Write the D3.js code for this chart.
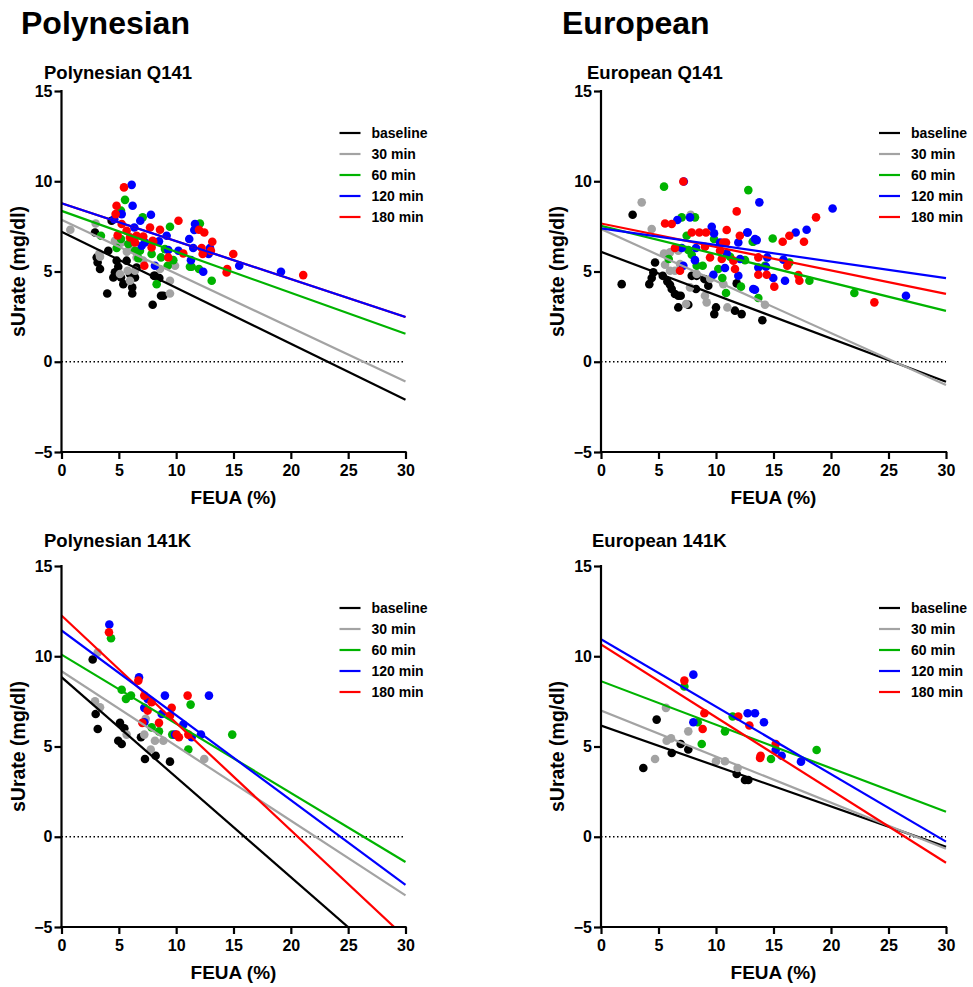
<!DOCTYPE html>
<html><head><meta charset="utf-8">
<script src="https://cdn.jsdelivr.net/npm/d3@7"></script>
<style>
html,body{margin:0;padding:0;background:#fff;}
text{font-family:"Liberation Sans",Arial,sans-serif;font-weight:bold;}
</style></head>
<body><svg id="c" width="973" height="987"></svg>
<script>
// ---------- DATA ----------
const seriesNames = ["baseline","30 min","60 min","120 min","180 min"];
const seriesColors = ["#000000","#a3a3a3","#00b300","#0000ff","#ff0000"];
const xTicks = [0,5,10,15,20,25,30];
const yTicks = [-5,0,5,10,15];
const panelTitles = ["Polynesian Q141","European Q141","Polynesian 141K","European 141K"];
const groupTitles = ["Polynesian","European"];

// Polynesian Q141 points [FEUA, sUrate]
const polyQ_baseline = [[4.37,7.81],[2.92,7.16],[4.08,6.15],[3.07,5.78],[3.15,5.5],[3.36,5.14],[4.81,5.6],[5.68,5.6],[4.95,5.26],[4.66,4.95],[4.52,4.67],[5.19,4.67],[5.39,4.3],[5.97,4.86],[6.41,4.67],[6.17,4.12],[3.99,3.78],[6.17,3.78],[8.15,4.76],[8.53,4.64],[8.88,3.66],[8.68,3.66],[7.95,3.16],[6.55,5.22],[8.06,4.76]];
const polyQ_30 = [[2.98,7.66],[0.77,7.31],[3.36,5.82],[5.1,4.86],[5.97,4.49],[6.41,5.04],[5.77,5.04],[9.46,3.78],[9.46,4.49],[6.55,5.78],[7.13,5.6],[4.66,6.7],[5.2,6.6],[5.7,6.1],[9.9,5.32],[8.59,5.14],[3.3,6.0],[6.0,6.4]];
const polyQ_60 = [[5.54,8.97],[5.19,8.37],[7.08,8.0],[3.44,6.98],[9.46,7.48],[12.07,7.66],[9.02,6.24],[8.68,5.78],[9.75,5.63],[11.35,5.26],[11.99,5.14],[13.1,4.49],[9.26,5.32],[7.86,5.97],[6.84,6.15],[6.41,6.15],[5.83,6.52],[4.81,6.3],[5.19,6.8],[6.7,5.74],[8.3,4.3],[11.2,5.26]];
const polyQ_120 = [[6.12,9.8],[6.2,8.64],[5.25,8.18],[7.8,8.14],[6.87,7.81],[11.64,7.63],[11.58,7.3],[11.14,6.8],[12.95,6.3],[8.5,6.67],[9.31,6.19],[10.2,6.15],[11.29,5.63],[12.36,4.99],[8.15,5.32],[7.28,6.61],[6.99,6.43],[6.35,7.44],[11.49,6.3],[12.83,5.97],[15.5,5.32],[19.14,4.99],[9.17,6.98],[4.6,7.9]];
const polyQ_180 = [[5.45,9.66],[4.8,8.64],[4.72,8.18],[10.2,7.81],[5.25,7.63],[5.68,7.26],[6.55,6.98],[7.72,7.44],[8.59,7.31],[11.99,7.31],[12.45,7.16],[13.15,6.65],[12.22,6.3],[7.95,6.7],[7.86,6.33],[10.62,6.0],[9.31,5.78],[14.45,5.14],[7.22,5.32],[5.97,6.89],[6.41,6.61],[7.13,6.93],[8.0,6.65],[13.03,6.15],[12.31,5.97],[14.98,5.97],[14.4,4.95],[21.08,4.8],[4.9,7.0]];

// European Q141
const euroQ_baseline = [[2.75,8.14],[1.8,4.3],[4.2,4.3],[4.7,5.5],[4.41,4.64],[4.55,4.95],[5.37,4.76],[5.77,4.45],[6.0,4.27],[6.15,4.03],[6.43,3.75],[6.72,3.66],[6.93,3.66],[6.72,3.01],[7.59,3.16],[7.89,4.76],[8.32,4.76],[8.99,4.58],[9.33,4.21],[8.26,4.03],[10.0,3.01],[9.85,2.64],[11.65,2.83],[12.23,2.64],[14.03,2.3],[11.8,4.34]];
const euroQ_30 = [[3.54,8.83],[4.41,7.35],[7.8,8.14],[5.48,6.0],[5.57,5.37],[6.0,5.04],[6.43,5.04],[6.87,5.41],[7.4,3.2],[7.74,4.12],[8.32,4.86],[9.04,3.66],[9.19,3.29],[10.64,4.3],[10.99,3.01],[14.26,3.16],[6.0,6.06],[6.72,6.15],[9.5,4.6]];
const euroQ_60 = [[5.48,9.7],[7.02,8.0],[8.17,8.0],[12.81,9.51],[7.45,6.98],[9.83,6.8],[13.24,6.65],[7.59,6.19],[7.89,5.93],[11.22,5.82],[12.52,5.63],[14.26,5.32],[13.68,3.53],[10.2,5.14],[10.55,4.64],[12.17,4.16],[10.87,3.81],[8.32,5.32],[8.84,5.32],[5.89,5.69],[14.93,6.83],[13.19,6.65],[16.38,5.5],[18.12,4.49],[22.03,3.81]];
const euroQ_120 = [[7.2,9.99],[6.64,7.85],[7.74,8.0],[9.63,7.48],[13.77,8.83],[12.72,7.16],[9.83,7.11],[10.35,6.61],[11.94,6.61],[13.54,6.74],[7.02,6.3],[8.26,6.3],[10.93,6.0],[12.09,5.69],[13.68,5.22],[13.24,4.03],[10.78,5.19],[9.77,4.82],[11.94,4.76],[8.17,5.63],[7.16,5.32],[20.14,8.49],[17.88,7.31],[16.93,7.16],[12.75,7.16],[13.39,6.8],[14.46,5.78],[15.86,5.65],[14.35,5.26],[14.98,4.64],[16.0,4.49],[13.39,3.99],[26.52,3.66]];
const euroQ_180 = [[7.16,9.99],[5.57,7.66],[6.15,7.63],[10.93,7.3],[11.8,8.33],[12.07,6.98],[7.89,7.16],[8.55,7.16],[9.13,7.16],[10.64,6.61],[10.87,6.61],[6.43,6.3],[9.04,6.37],[9.48,5.78],[10.5,5.69],[10.35,6.15],[11.51,5.6],[13.68,5.78],[13.68,4.82],[14.41,4.82],[11.65,5.14],[6.87,5.04],[18.7,8.0],[16.38,6.98],[15.8,6.65],[17.65,6.65],[16.2,5.32],[17.16,4.8],[17.25,4.49],[15.07,4.16],[23.77,3.29]];

// Polynesian 141K
const polyK_baseline = [[2.72,9.82],[2.98,6.8],[3.16,5.97],[5.1,6.31],[5.48,6.01],[4.95,5.32],[5.25,5.14],[6.93,5.51],[7.28,4.31],[8.21,4.49],[9.46,4.16]];
const polyK_30 = [[3.15,10.2],[2.92,7.5],[3.36,7.17],[5.68,5.66],[7.22,5.66],[8.15,5.32],[8.88,5.32],[7.78,4.83],[7.34,6.53],[12.45,4.31]];
const polyK_60 = [[4.32,11.0],[5.25,8.14],[5.62,7.64],[6.06,7.82],[7.86,6.06],[8.5,5.84],[9.66,5.66],[11.26,7.32],[11.06,4.83],[14.89,5.66]];
const polyK_120 = [[4.17,11.76],[6.76,8.84],[7.51,7.64],[9.02,7.82],[12.86,7.82],[7.22,7.14],[8.74,6.8],[7.22,6.34],[10.62,6.21],[11.35,5.51],[12.16,5.66],[9.9,5.66]];
const polyK_180 = [[4.14,11.33],[6.7,8.65],[7.22,7.82],[7.86,7.45],[11.0,7.82],[9.61,7.14],[7.51,6.99],[9.46,6.71],[8.5,6.31],[7.05,6.31],[10.04,5.66],[10.24,5.51],[11.06,5.66]];

// European 141K
const euroK_baseline = [[4.84,6.49],[6.93,5.14],[7.59,4.83],[6.15,4.64],[3.68,3.81],[11.8,3.48],[12.52,3.14],[12.81,3.14]];
const euroK_30 = [[5.65,7.14],[7.59,5.84],[6.09,5.45],[5.71,5.32],[4.7,4.31],[10.0,4.18],[10.78,4.18],[11.88,3.81]];
const euroK_60 = [[7.25,8.32],[8.41,6.34],[8.76,5.14],[11.45,6.66],[10.78,5.84],[14.78,4.31],[18.75,4.81]];
const euroK_120 = [[8.03,8.98],[8.03,6.34],[12.75,6.84],[13.39,6.84],[14.17,6.34],[15.19,4.81],[15.71,4.49],[17.39,4.16]];
const euroK_180 = [[7.25,8.65],[8.99,6.84],[8.84,5.97],[11.94,6.66],[12.9,6.16],[15.19,5.14],[13.88,4.49],[13.83,4.36]];

// Regression lines [intercept, slope] per series
const polyQ_fits = [[7.2,-0.31],[7.87,-0.299],[8.36,-0.227],[8.78,-0.21],[8.78,-0.21]];
const euroQ_fits = [[6.09,-0.24],[7.35,-0.288],[7.53,-0.157],[7.39,-0.092],[7.66,-0.130]];
const polyK_fits = [[8.84,-0.554],[9.17,-0.414],[10.09,-0.383],[11.43,-0.47],[12.26,-0.595]];
const euroK_fits = [[6.16,-0.224],[6.99,-0.255],[8.62,-0.241],[10.95,-0.374],[10.65,-0.403]];

// ---------- DRAW ----------
const svg = d3.select("#c");
const font = '"Liberation Sans",Arial,sans-serif';

svg.append("text").attr("x",21).attr("y",34).attr("font-size",32).text(groupTitles[0]);
svg.append("text").attr("x",562).attr("y",34).attr("font-size",32).text(groupTitles[1]);

const panels = [
  {title:panelTitles[0], left:61.5, right:405.5, top:91, bottom:452, titleY:79, titleX:44,
   pts:[polyQ_baseline,polyQ_30,polyQ_60,polyQ_120,polyQ_180], fits:polyQ_fits},
  {title:panelTitles[1], left:601, right:946, top:91, bottom:452, titleY:79, titleX:587,
   pts:[euroQ_baseline,euroQ_30,euroQ_60,euroQ_120,euroQ_180], fits:euroQ_fits},
  {title:panelTitles[2], left:61.5, right:405.5, top:566, bottom:927, titleY:547, titleX:44,
   pts:[polyK_baseline,polyK_30,polyK_60,polyK_120,polyK_180], fits:polyK_fits},
  {title:panelTitles[3], left:601, right:946, top:566, bottom:927, titleY:547, titleX:592,
   pts:[euroK_baseline,euroK_30,euroK_60,euroK_120,euroK_180], fits:euroK_fits}
];

const pointOrder = [0,1,2,3,4];
const lineOrder = [0,1,2,4,3];

panels.forEach((p,pi)=>{
  const x = d3.scaleLinear().domain([0,30]).range([p.left,p.right]);
  const y = d3.scaleLinear().domain([-5,15]).range([p.bottom,p.top]);
  const g = svg.append("g");

  g.append("text").attr("x",p.titleX).attr("y",p.titleY).attr("font-size",18.5).text(p.title);

  const clipId = "clip"+pi;
  svg.append("clipPath").attr("id",clipId).append("rect")
    .attr("x",p.left).attr("y",p.top).attr("width",p.right-p.left+2).attr("height",p.bottom-p.top);

  g.append("line").attr("x1",x(0)).attr("x2",x(30)).attr("y1",y(0)).attr("y2",y(0))
    .attr("stroke","#000").attr("stroke-width",1.3).attr("stroke-dasharray","1.5,2.5");

  const pg = g.append("g");
  pointOrder.forEach(si=>{
    pg.selectAll(null).data(p.pts[si]).enter().append("circle")
      .attr("cx",d=>x(d[0])).attr("cy",d=>y(d[1])).attr("r",4.3)
      .attr("fill",seriesColors[si]);
  });

  const lg = g.append("g").attr("clip-path","url(#"+clipId+")");
  lineOrder.forEach(si=>{
    const f = p.fits[si];
    lg.append("line").attr("x1",x(0)).attr("y1",y(f[0])).attr("x2",x(30)).attr("y2",y(f[0]+f[1]*30))
      .attr("stroke",seriesColors[si]).attr("stroke-width",2.2);
  });

  const xa = g.append("g").attr("transform","translate(0,"+p.bottom+")")
    .call(d3.axisBottom(x).tickValues(xTicks).tickSize(7).tickSizeOuter(0).tickFormat(d3.format("d")));
  const ya = g.append("g").attr("transform","translate("+p.left+",0)")
    .call(d3.axisLeft(y).tickValues(yTicks).tickSize(7).tickSizeOuter(0).tickFormat(d3.format("d")));
  [xa,ya].forEach(a=>{
    a.select(".domain").attr("stroke","#000").attr("stroke-width",2.2);
    a.selectAll(".tick line").attr("stroke","#000").attr("stroke-width",2.2);
    a.selectAll(".tick text").attr("font-family",font).attr("font-weight","bold").attr("font-size",16).attr("fill","#000");
  });
  xa.selectAll(".tick text").attr("dy","0").attr("y",24);
  ya.selectAll(".tick text").attr("x",-9);
  xa.select(".domain").attr("d","M"+(p.left-1.1)+",0H"+(p.right+1.1));
  ya.select(".domain").attr("d","M0,"+(p.top-1.1)+"V"+(p.bottom+1.1));

  g.append("text").attr("x",(p.left+p.right)/2).attr("y",p.bottom+52).attr("text-anchor","middle")
    .attr("font-size",19).text("FEUA (%)");
  g.append("text").attr("transform","translate("+(p.left-37)+","+((p.top+p.bottom)/2)+") rotate(-90)")
    .attr("text-anchor","middle").attr("font-size",19.5).text("sUrate (mg/dl)");

  const lx = p.left + 278, ly = p.top + 42;
  seriesNames.forEach((nm,i)=>{
    const yy = ly + i*21;
    g.append("line").attr("x1",lx).attr("x2",lx+21).attr("y1",yy).attr("y2",yy)
      .attr("stroke",seriesColors[i]).attr("stroke-width",2.2);
    g.append("text").attr("x",lx+32).attr("y",yy+5).attr("font-size",14).text(nm);
  });
});
</script>
</body></html>
